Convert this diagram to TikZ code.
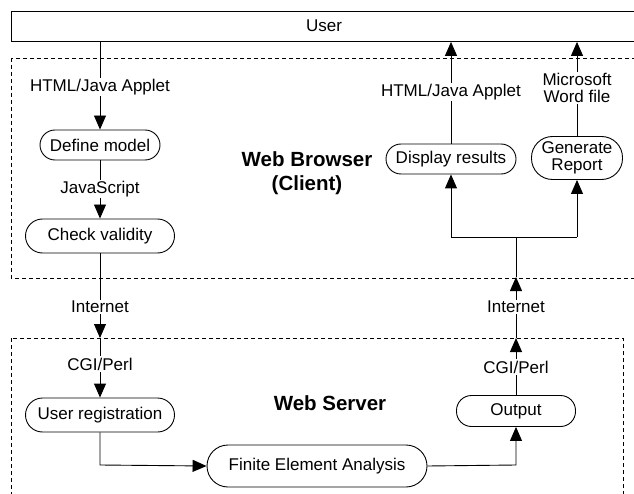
\documentclass[tikz,border=0pt]{standalone}
\usepackage{fontspec}
\setmainfont{Liberation Sans}
\usetikzlibrary{arrows.meta}
\begin{document}
\begin{tikzpicture}[x=1pt,y=-1pt,
  every node/.style={font=\fontsize{17}{18.5}\selectfont, inner sep=0pt},
  proc/.style={draw, line width=0.9pt, align=center},
  lbl/.style={fill=white, inner sep=1.5pt, align=center},
  big/.style={font=\fontsize{20.5}{24}\selectfont\bfseries, align=center},
  conn/.style={line width=0.9pt},
  arr/.style={conn, -{Triangle[length=14pt,width=12pt]}},
  region/.style={draw, line width=0.8pt, dash pattern=on 4pt off 3pt}]
\useasboundingbox (0,0) rectangle (634,494);
\clip (0,0) rectangle (634,494);
\fill[white] (0,0) rectangle (634,494);
% regions
\draw[region] (11,58) rectangle (660,278);
\draw[region] (11,338) rectangle (623,520);
% user bar
\node[draw, line width=0.9pt, minimum width=660pt, minimum height=30pt, anchor=north west] (user) at (11,11) {};
\node (usertext) at (324,26) {User};
% processes
\node[proc, minimum width=120pt, minimum height=30pt, rounded corners=15pt] (define) at (100,145) {Define model};
\node[proc, minimum width=149pt, minimum height=34pt, rounded corners=17pt] (check) at (100,236) {Check validity};
\node[proc, minimum width=130pt, minimum height=30pt, rounded corners=15pt] (display) at (451,159) {Display results};
\node[proc, minimum width=91pt, minimum height=43pt, rounded corners=21pt] (report) at (577,158) {Generate\\[-2pt]Report};
\node[proc, minimum width=149pt, minimum height=34pt, rounded corners=17pt] (userreg) at (100,415) {User registration};
\node[proc, minimum width=220pt, minimum height=42pt, rounded corners=21pt] (fea) at (317,466) {Finite Element Analysis};
\node[proc, minimum width=119pt, minimum height=31pt, rounded corners=15pt] (output) at (516,411) {Output};
% region titles
\node[big] (browser) at (307,173) {Web Browser\\(Client)};
\node[big] (server) at (330,403) {Web Server};
% helper coordinates
\coordinate (sTopL) at (100,338);
\coordinate (sTopR) at (516,338);
\coordinate (bBotR) at (516,277);
\coordinate (junc) at (516,237);
\coordinate (jL) at (451,237);
\coordinate (jR) at (577,237);
\coordinate (cornerL) at (100,465);
\coordinate (cornerR) at (516,465);
% connectors (drawn first, labels on top)
\draw[arr] (user.south -| define.north) -- (define.north);
\draw[arr] (define.south) -- (check.north);
\draw[arr] (check.south) -- (sTopL);
\draw[arr] (sTopL) -- (userreg.north);
\draw[arr] (userreg.south) -- (cornerL) -- (fea.west);
\draw[arr] (fea.east) -- (cornerR) -- (output.south);
\draw[arr] (output.north) -- (sTopR);
\draw[arr] (sTopR) -- (bBotR);
\draw[conn] (bBotR) -- (junc);
\draw[arr] (jL) -- (jR) (jL) -- (display.south);
\draw[arr] (jR) -- (report.south);
\draw[arr] (display.north) -- (display.north |- user.south);
\draw[arr] (report.north) -- (report.north |- user.south);
% labels
\node[lbl] (l1) at (100,87) {HTML/Java Applet};
\node[lbl] (l2) at (100,189) {JavaScript};
\node[lbl] (l3) at (100,307) {Internet};
\node[lbl] (l4) at (100,364) {CGI/Perl};
\node[lbl] (r1) at (451,92) {HTML/Java Applet};
\node[lbl] (r2) at (577,88) {Microsoft\\[-2pt]Word file};
\node[lbl] (r3) at (516,307) {Internet};
\node[lbl] (r4) at (516,367) {CGI/Perl};
\end{tikzpicture}
\end{document}
